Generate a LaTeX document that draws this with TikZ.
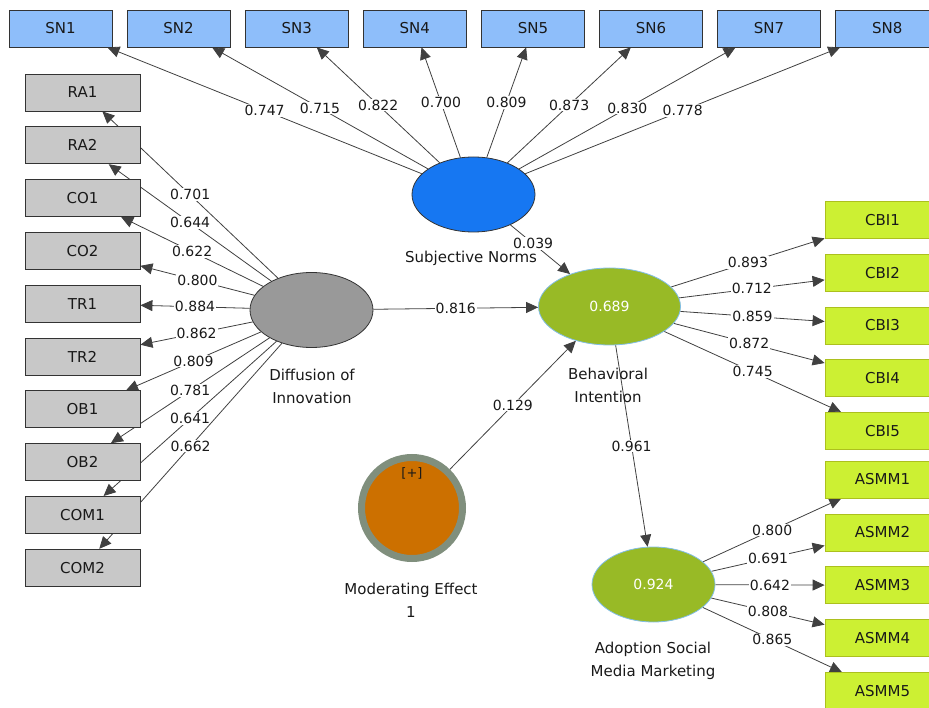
\documentclass[tikz,border=0pt]{standalone}
\usepackage{fontspec}
\setmainfont{DejaVu Sans}
\usepackage{tikz}
\usetikzlibrary{arrows.meta,shapes.geometric,backgrounds}

\definecolor{snbox}{RGB}{142,190,250}
\definecolor{graybox}{RGB}{200,200,200}
\definecolor{greenbox}{RGB}{204,240,51}
\definecolor{greenline}{RGB}{172,192,30}
\definecolor{snfill}{RGB}{22,119,242}
\definecolor{doifill}{RGB}{153,153,153}
\definecolor{bifill}{RGB}{152,186,38}
\definecolor{biline}{RGB}{130,190,230}
\definecolor{modring}{RGB}{128,143,125}
\definecolor{modfill}{RGB}{204,112,0}

\tikzset{
  item/.style={draw=black!80, line width=0.8pt, inner sep=0pt, minimum height=37pt,
    text=black!90, font=\fontsize{15}{15}\selectfont},
  snitem/.style={item, fill=snbox, minimum width=103pt},
  doiitem/.style={item, fill=graybox, minimum width=115pt},
  biitem/.style={item, draw=greenline, fill=greenbox, minimum width=115pt},
  construct/.style={ellipse, draw=black!80, line width=0.8pt, minimum width=123pt,
    minimum height=75pt, inner sep=0pt, text=white, font=\fontsize{14}{14}\selectfont},
  cname/.style={align=center, text=black!90, font=\fontsize{15}{23}\selectfont},
  load/.style={draw=black!75, line width=0.8pt, -{Triangle[length=12pt,width=11pt]}},
  coef/.style={fill=white, inner sep=1pt, text=black!90, font=\fontsize{14}{14}\selectfont},
}

\begin{document}
\begin{tikzpicture}[x=1pt,y=-1pt]
  \useasboundingbox (0,0) rectangle (929,708);

  % indicators
  \foreach \k in {1,...,8}
    \node[snitem] (sn\k) at ({60.5+118.1*(\k-1)},28.5) {SN\k};
  \foreach \n [count=\k] in {RA1,RA2,CO1,CO2,TR1,TR2,OB1,OB2,COM1,COM2}
    \node[doiitem] (\n) at (82.5,{92.5+52.8*(\k-1)}) {\n};
  \foreach \k in {1,...,5}
    \node[biitem] (cbi\k) at (882.5,{220+52.75*(\k-1)}) {CBI\k};
  \foreach \k in {1,...,5}
    \node[biitem] (asmm\k) at (882.5,{479.5+52.9*(\k-1)}) {ASMM\k};

  % constructs
  \node[construct, fill=snfill] (sn) at (473.5,194.5) {};
  \node[construct, fill=doifill] (doi) at (311.5,310) {};
  \node[construct, fill=bifill, draw=biline, minimum width=142pt, minimum height=77pt] (bi) at (609.5,306.5) {0.689};
  \node[construct, fill=bifill, draw=biline] (adopt) at (653.5,584.5) {0.924};
  \node[circle, draw=modring, line width=7pt, fill=modfill, minimum size=101pt, inner sep=0pt] (mod) at (412,508) {};
  \node[text=black!90, font=\fontsize{13}{13}\selectfont] (modsign) at (412,473) {[+]};

  % construct names
  \node[cname] (snname) at (471,258) {Subjective Norms};
  \node[cname] (doiname) at (312,386) {Diffusion of\\Innovation};
  \node[cname] (biname) at (608,385) {Behavioral\\Intention};
  \node[cname] (adoptname) at (653,661) {Adoption Social\\Media Marketing};
  \node[cname] (modname) at (411,600) {Moderating Effect\\1};

  % loadings and paths
  \begin{scope}[on background layer]
    \foreach \k/\v in {1/0.747,2/0.715,3/0.822,4/0.700,5/0.809,6/0.873,7/0.830,8/0.778}
      \path (sn) edge[load] node[coef] {\v} (sn\k);
    \foreach \n/\v in {RA1/0.701,RA2/0.644,CO1/0.622,CO2/0.800,TR1/0.884,TR2/0.862,OB1/0.809,OB2/0.781,COM1/0.641,COM2/0.662}
      \path (doi) edge[load] node[coef] {\v} (\n);
    \foreach \k/\v in {1/0.893,2/0.712,3/0.859,4/0.872,5/0.745}
      \path (bi) edge[load] node[coef] {\v} (cbi\k);
    \foreach \k/\v in {1/0.800,2/0.691,3/0.642,4/0.808,5/0.865}
      \path (adopt) edge[load] node[coef] {\v} (asmm\k);
    \path (doi) edge[load] node[coef] {0.816} (bi)
          (sn)  edge[load] node[coef, pos=0.38] {0.039} (bi)
          (mod) edge[load] node[coef] {0.129} (bi)
          (bi)  edge[load] node[coef] {0.961} (adopt);
  \end{scope}
\end{tikzpicture}
\end{document}
